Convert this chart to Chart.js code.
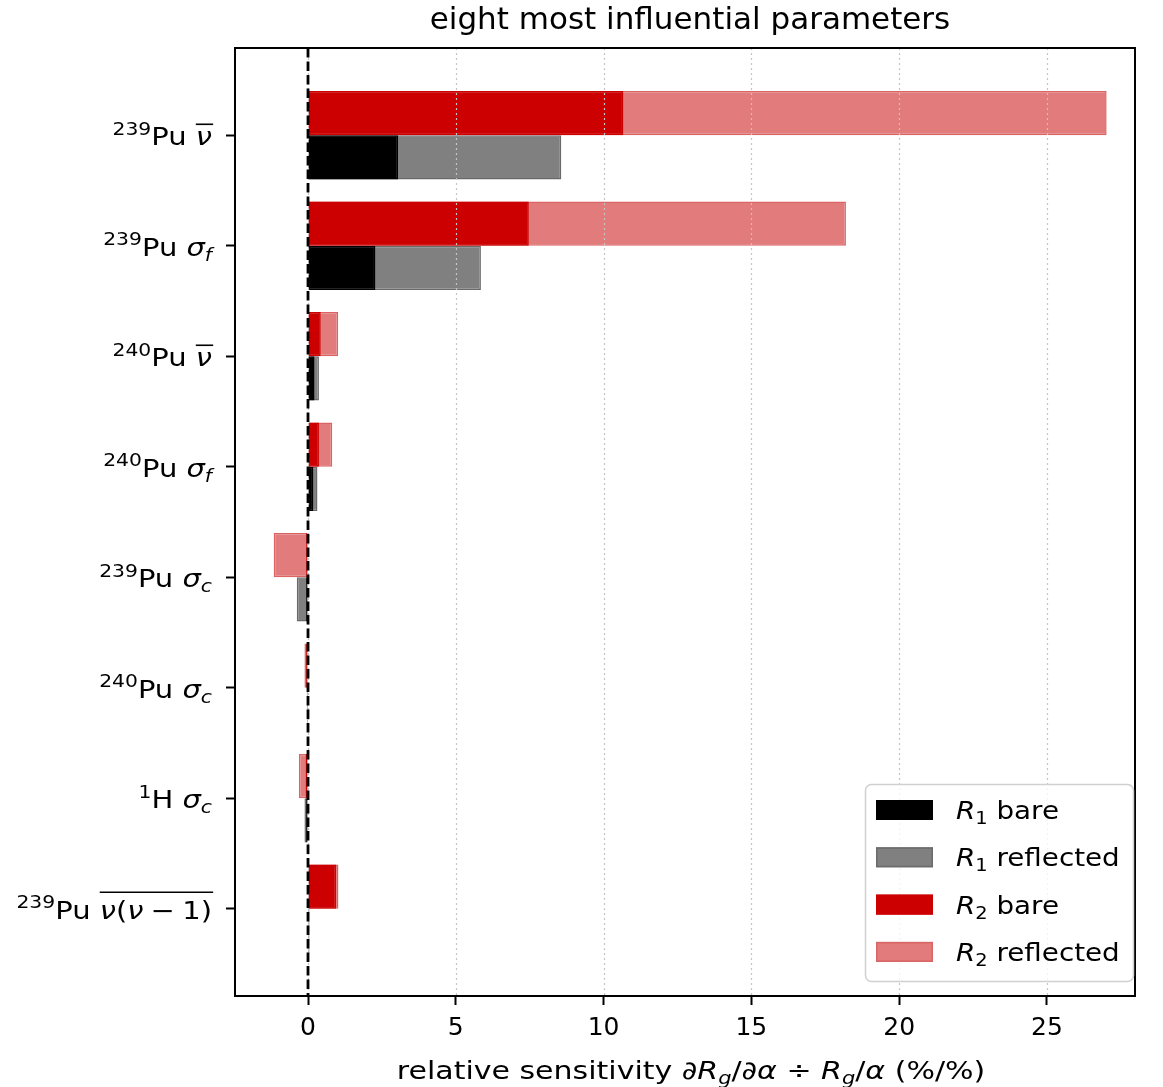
<!DOCTYPE html>
<html>
<head>
<meta charset="utf-8">
<script src="https://cdn.jsdelivr.net/npm/chart.js@4.4.1/dist/chart.umd.min.js"></script>
<style>
  html, body { margin: 0; padding: 0; background: #fff; }
  canvas { display: block; }
</style>
</head>
<body>
<canvas id="chart" width="1163" height="1087"></canvas>
<script>
// categories, top to bottom
const isotopes = ['239', '239', '240', '240', '239', '240', '1', '239'];
const elements = ['Pu', 'Pu', 'Pu', 'Pu', 'Pu', 'Pu', 'H', 'Pu'];
const quantities = ['nubar', 'sigma_f', 'nubar', 'sigma_f', 'sigma_c', 'sigma_c', 'sigma_c', 'nunu'];

// relative sensitivities (%/%)
const r1Bare =      [3.05, 2.28, 0.22, 0.18, -0.06, -0.03, -0.06, 0.03];
const r1Reflected = [8.57, 5.85, 0.37, 0.32, -0.38, -0.04, -0.12, 0.05];
const r2Bare =      [10.67, 7.47, 0.43, 0.37, -0.06, -0.06, -0.08, 0.95];
const r2Reflected = [27.02, 18.2, 1.02, 0.82, -1.16, -0.12, -0.31, 1.03];

const seriesNames = ['R1 bare', 'R1 reflected', 'R2 bare', 'R2 reflected'];
const xTicks = [0, 5, 10, 15, 20, 25];

const FONT = '"DejaVu Sans", sans-serif';
const FS = 25;

function fontOf(g, size) {
    return (g.it ? 'italic ' : '') + (size * (g.s || 1)) + 'px ' + FONT;
}

// draw a run of text pieces (super/subscripts, italics, overline), sx = horizontal stretch
function drawRun(ctx, segs, x, y, size, align, sx, olRaise) {
    sx = sx || 1;
    let w = 0;
    for (const g of segs) {
        ctx.font = fontOf(g, size);
        g.w = ctx.measureText(g.t).width;
        w += g.w;
    }
    const start = align === 'right' ? x - w * sx : align === 'center' ? x - w * sx / 2 : x;
    ctx.save();
    ctx.translate(start, y);
    ctx.scale(sx, 1);
    let cx = 0, x0 = null, x1 = null;
    ctx.textAlign = 'left';
    ctx.textBaseline = 'alphabetic';
    ctx.fillStyle = '#000';
    for (const g of segs) {
        ctx.font = fontOf(g, size);
        ctx.fillText(g.t, cx, (g.dy || 0) * size);
        if (g.ol) {
            if (x0 === null) x0 = cx;
            x1 = cx + g.w;
        }
        cx += g.w;
    }
    if (x0 !== null) {
        ctx.strokeStyle = '#000';
        ctx.lineWidth = 1.6;
        ctx.beginPath();
        ctx.moveTo(x0, -olRaise * size);
        ctx.lineTo(x1 + 1, -olRaise * size);
        ctx.stroke();
    }
    ctx.restore();
}

function quantitySegs(q) {
    if (q === 'nubar') return [{ t: 'ν', it: 1, ol: 1 }];
    if (q === 'sigma_f') return [{ t: 'σ', it: 1 }, { t: 'f', it: 1, s: 0.7, dy: 0.2 }];
    if (q === 'sigma_c') return [{ t: 'σ', it: 1 }, { t: 'c', it: 1, s: 0.7, dy: 0.2 }];
    return [
        { t: 'ν', it: 1, ol: 1 }, { t: '(', ol: 1 }, { t: 'ν', it: 1, ol: 1 },
        { t: '\u2005−\u2005', ol: 1 }, { t: '1', ol: 1 }, { t: ')', ol: 1 }
    ];
}

function nameSegs(name) {
    return [{ t: name[0], it: 1 }, { t: name[1], s: 0.7, dy: 0.2 }, { t: name.slice(2) }];
}

const colors = {
    'R1 bare': { fill: '#000000', edge: '#000000' },
    'R1 reflected': { fill: '#808080', edge: '#6a6a6a' },
    'R2 bare': { fill: '#cc0000', edge: '#cc0000' },
    'R2 reflected': { fill: '#e27c7c', edge: '#da6464' }
};

function makeSet(name, values, stack) {
    return {
        label: name,
        data: values.map((v, i) => ({ x: v, y: i })),
        stack: stack,
        backgroundColor: colors[name].fill,
        borderColor: colors[name].edge,
        borderWidth: 1.5,
        borderSkipped: false,
        categoryPercentage: 0.8,
        barPercentage: 1.0
    };
}

const decorations = {
    id: 'decorations',
    afterDatasetsDraw(chart) {
        const { ctx, chartArea: a, scales: { x } } = chart;
        ctx.save();
        // dotted vertical grid, on top of the bars
        ctx.strokeStyle = '#c4c4c4';
        ctx.lineWidth = 1.2;
        ctx.setLineDash([2, 3]);
        xTicks.forEach(v => {
            const px = Math.round(x.getPixelForValue(v)) + 0.5;
            ctx.beginPath();
            ctx.moveTo(px, a.top);
            ctx.lineTo(px, a.bottom);
            ctx.stroke();
        });
        // dashed zero line
        ctx.strokeStyle = '#000';
        ctx.lineWidth = 2.8;
        ctx.setLineDash([9.5, 4]);
        const z = x.getPixelForValue(0);
        ctx.beginPath();
        ctx.moveTo(z, a.top);
        ctx.lineTo(z, a.bottom);
        ctx.stroke();
        ctx.restore();
    },
    afterDraw(chart) {
        const { ctx, chartArea: a, scales: { y } } = chart;
        ctx.save();
        // frame
        ctx.strokeStyle = '#000';
        ctx.lineWidth = 2;
        ctx.strokeRect(a.left, a.top, a.right - a.left, a.bottom - a.top);

        // title
        drawRun(ctx, [{ t: 'eight most influential parameters' }], 690, 29, 31, 'center');

        // y tick labels
        isotopes.forEach((iso, i) => {
            const py = y.getPixelForValue(i) + 10;
            const segs = [{ t: iso, s: 0.7, dy: -0.42 }, { t: elements[i] }, { t: ' ' }]
                .concat(quantitySegs(quantities[i]));
            const raise = quantities[i] === 'nunu' ? 1.06 : 0.84;
            drawRun(ctx, segs, 212, py, FS, 'right', 1.16, raise);
        });

        // x axis label
        drawRun(ctx, [
            { t: 'relative sensitivity ' }, { t: '∂', it: 1 }, { t: 'R', it: 1 },
            { t: 'g', it: 1, s: 0.7, dy: 0.2 }, { t: '/' }, { t: '∂', it: 1 }, { t: 'α', it: 1 },
            { t: ' ÷ ' }, { t: 'R', it: 1 }, { t: 'g', it: 1, s: 0.7, dy: 0.2 }, { t: '/' },
            { t: 'α', it: 1 }, { t: ' (%/%)' }
        ], 691, 1079, FS, 'center', 1.2);

        // legend
        const lx = 865.5, ly = 784.5, lw = 268, lh = 197;
        ctx.beginPath();
        ctx.roundRect(lx, ly, lw, lh, 6);
        ctx.fillStyle = 'rgba(255,255,255,0.8)';
        ctx.fill();
        ctx.strokeStyle = '#d0d0d0';
        ctx.lineWidth = 1.5;
        ctx.stroke();
        seriesNames.forEach((name, k) => {
            const cy = 810 + k * 47.3;
            ctx.fillStyle = colors[name].fill;
            ctx.strokeStyle = colors[name].edge;
            ctx.lineWidth = 1.5;
            ctx.fillRect(876, cy - 10, 57, 20);
            ctx.strokeRect(876.75, cy - 9.25, 55.5, 18.5);
            drawRun(ctx, nameSegs(name), 956, cy + 9, FS, 'left', 1.11);
        });
        ctx.restore();
    }
};

new Chart(document.getElementById('chart'), {
    type: 'bar',
    data: {
        datasets: [
            makeSet('R2 bare', r2Bare, 'R2'),
            makeSet('R2 reflected', r2Reflected, 'R2'),
            makeSet('R1 bare', r1Bare, 'R1'),
            makeSet('R1 reflected', r1Reflected, 'R1')
        ]
    },
    options: {
        indexAxis: 'y',
        responsive: false,
        devicePixelRatio: 1,
        animation: false,
        layout: { padding: { top: 48, right: 28, left: 0, bottom: 0 } },
        plugins: {
            legend: { display: false },
            tooltip: { enabled: false },
            title: { display: false }
        },
        scales: {
            x: {
                type: 'linear',
                min: -2.47,
                max: 27.98,
                stacked: false,
                afterBuildTicks: s => { s.ticks = xTicks.map(v => ({ value: v })); },
                afterFit: s => { s.height = 91; },
                grid: { drawOnChartArea: false, drawTicks: true, tickLength: 9, tickColor: '#000', tickWidth: 2 },
                border: { display: false },
                ticks: { color: '#000', font: { family: FONT, size: FS }, padding: 8, maxRotation: 0 }
            },
            y: {
                type: 'linear',
                reverse: true,
                offset: false,
                min: -0.79,
                max: 7.79,
                afterBuildTicks: s => { s.ticks = isotopes.map((_, i) => ({ value: i })); },
                afterFit: s => { s.width = 235; },
                grid: { offset: false, drawOnChartArea: false, drawTicks: true, tickLength: 9, tickColor: '#000', tickWidth: 2 },
                border: { display: false },
                ticks: { display: false }
            }
        }
    },
    plugins: [decorations]
});
</script>
</body>
</html>
